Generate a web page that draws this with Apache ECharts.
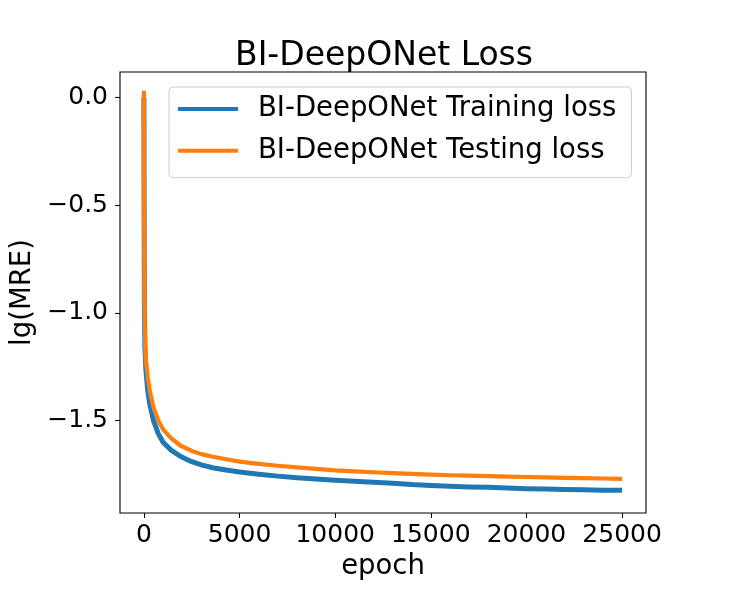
<!DOCTYPE html>
<html>
<head>
<meta charset="utf-8">
<script src="https://cdn.jsdelivr.net/npm/echarts@6/dist/echarts.min.js"></script>
<style>html,body{margin:0;padding:0;background:#fff}#c{width:750px;height:600px}</style>
</head>
<body>
<div id="c"></div>
<script>
var epochs = [0, 10, 25, 50, 100, 200, 300, 500, 750, 1000, 1400, 1900, 2500, 3000, 3600, 4300, 5000,
  6000, 7000, 8000, 9000, 10000, 11000, 12000, 13000, 14000, 15000, 16000, 17000, 18000, 19000,
  20000, 21000, 22000, 23000, 24000, 25000];
var trainLoss = [0.0, -0.5, -0.97, -1.15, -1.26, -1.36, -1.42, -1.50, -1.56, -1.60, -1.635, -1.665, -1.69, -1.705, -1.718, -1.729, -1.738,
  -1.748, -1.757, -1.764, -1.770, -1.776, -1.781, -1.785, -1.790, -1.796, -1.800, -1.804, -1.807, -1.809, -1.812,
  -1.815, -1.817, -1.819, -1.820, -1.822, -1.823];
var testLoss = [0.03, -0.5, -0.95, -1.12, -1.22, -1.30, -1.36, -1.44, -1.50, -1.54, -1.58, -1.615, -1.64, -1.655, -1.667, -1.679, -1.690,
  -1.700, -1.709, -1.716, -1.723, -1.730, -1.735, -1.739, -1.743, -1.747, -1.750, -1.753, -1.755, -1.757, -1.759,
  -1.761, -1.763, -1.765, -1.766, -1.768, -1.770];
var xTicks = [0, 5000, 10000, 15000, 20000, 25000];
var yTicks = [-1.5, -1.0, -0.5, 0.0];
var seriesNames = ['BI-DeepONet Training loss', 'BI-DeepONet Testing loss'];
var titleText = 'BI-DeepONet Loss';

function pairs(xs, ys) { return xs.map(function (x, i) { return [x, ys[i]]; }); }
var FONT = 'DejaVu Sans';
var chart = echarts.init(document.getElementById('c'));
chart.setOption({
  animation: false,
  backgroundColor: '#fff',
  title: {
    text: titleText, left: 379, top: 35, textAlign: 'center',
    textStyle: { fontFamily: FONT, fontSize: 33, fontWeight: 'normal', color: '#000', lineHeight: 33 }
  },
  grid: { left: 120, top: 72, width: 526, height: 441, show: true, borderColor: '#000', borderWidth: 1.1, backgroundColor: 'transparent' },
  legend: {
    orient: 'vertical', left: 169, top: 87,
    padding: [7, 15, 12, 9],
    icon: 'rect',
    itemWidth: 60, itemHeight: 4, itemGap: 11.7,
    backgroundColor: 'rgba(255,255,255,0.8)', borderColor: '#cccccc', borderWidth: 1, borderRadius: 4,
    formatter: function (name) { return '{g|}{t|' + name + '}'; },
    textStyle: { fontFamily: FONT, fontSize: 27.5, color: '#000', lineHeight: 30,
      rich: { g: { width: 15, height: 30 }, t: { fontFamily: FONT, fontSize: 27.5, color: '#000', lineHeight: 30 } } },
    data: seriesNames
  },
  xAxis: {
    type: 'value', min: -1250, max: 26250,
    name: 'epoch', nameLocation: 'middle', nameGap: 38,
    nameTextStyle: { fontFamily: FONT, fontSize: 27.5, color: '#000' },
    axisLine: { show: false, onZero: false },
    axisTick: { show: true, length: 5, lineStyle: { color: '#000', width: 1 }, customValues: xTicks },
    axisLabel: { fontFamily: FONT, fontSize: 25, color: '#000', margin: 10, customValues: xTicks,
      formatter: function (v) { return String(v); } },
    splitLine: { show: false }
  },
  yAxis: {
    type: 'value', min: -1.928, max: 0.117,
    name: 'lg(MRE)', nameLocation: 'middle', nameGap: 80,
    nameTextStyle: { fontFamily: FONT, fontSize: 27.5, color: '#000' },
    axisLine: { show: false, onZero: false },
    axisTick: { show: true, length: 5, lineStyle: { color: '#000', width: 1 }, customValues: yTicks },
    axisLabel: { fontFamily: FONT, fontSize: 25, color: '#000', margin: 12, customValues: yTicks,
      formatter: function (v) { return v.toFixed(1).replace('-', '\u2212'); } },
    splitLine: { show: false }
  },
  series: [
    { name: seriesNames[0], type: 'line', data: pairs(epochs, trainLoss), showSymbol: false, symbol: 'none',
      lineStyle: { color: '#1f77b4', width: 5, join: 'round' }, itemStyle: { color: '#1f77b4' } },
    { name: seriesNames[1], type: 'line', data: pairs(epochs, testLoss), showSymbol: false, symbol: 'none',
      lineStyle: { color: '#ff7f0e', width: 4.2, join: 'round' }, itemStyle: { color: '#ff7f0e' } }
  ]
});
</script>
</body>
</html>
